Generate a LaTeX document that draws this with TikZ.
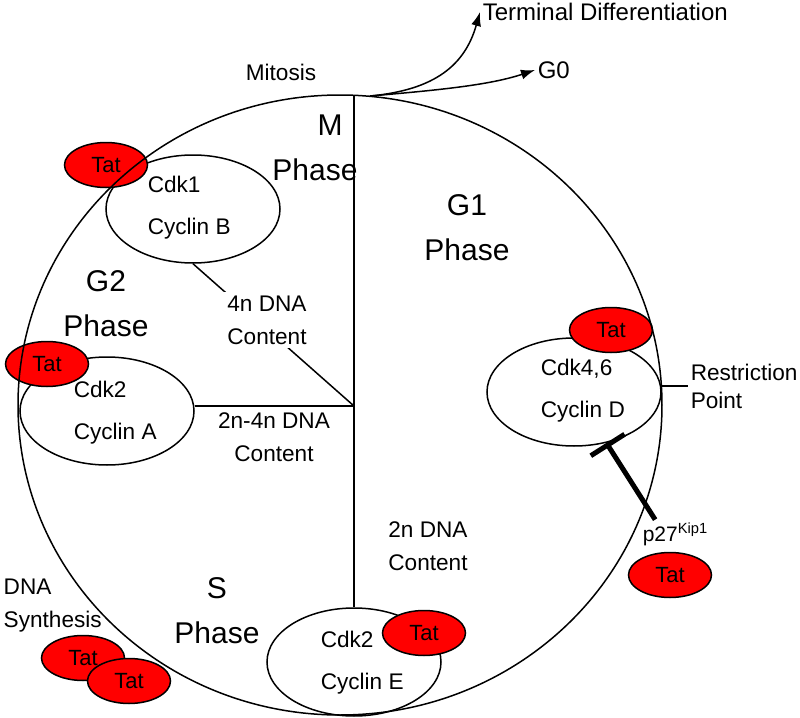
\documentclass[tikz,border=0pt]{standalone}
\usepackage{fontspec}
\setmainfont{Liberation Sans}
\usetikzlibrary{shapes.geometric,arrows.meta}

\begin{document}
\begin{tikzpicture}[x=0.5pt,y=-0.5pt,line width=0.75pt,
    cyclin/.style={draw,ellipse,minimum width=87pt,minimum height=54pt,inner sep=0pt},
    tat/.style={draw,ellipse,fill=red,minimum width=41.5pt,minimum height=22.5pt,inner sep=0pt,font=\fontsize{11}{12}\selectfont},
    lbl/.style={inner sep=1pt,align=center,font=\fontsize{11.3}{16.5}\selectfont},
    phase/.style={inner sep=1pt,align=center,font=\fontsize{15}{22.5}\selectfont},
    pair/.style={inner sep=0pt,anchor=west,align=left,font=\fontsize{11.3}{21}\selectfont}]
    \useasboundingbox (0,0) rectangle (800,718);
    % complexes
    \node[cyclin] (cycB) at (193,209) {};
    \node[cyclin] (cycA) at (107,411) {};
    \node[cyclin] (cycD) at (574,392) {};
    \node[cyclin] (cycE) at (354,662) {};
    \node[tat] (tatB) at (106,165) {Tat};
    \node[tat] (tatA) at (47,364) {Tat};
    \node[tat] (tatD) at (611,330) {Tat};
    \node[tat] (tatE) at (424,633) {Tat};
    \node[tat] (tatP) at (670,575) {Tat};
    \node[tat] (tatS1) at (83,658) {Tat};
    \node[tat] (tatS2) at (129,681) {Tat};
    % the cycle
    \draw (340,405) ellipse [x radius=322, y radius=310];
    \coordinate (top) at (354,95);
    \coordinate (hub) at (354,406);
    \coordinate (split) at (370,96);
    \draw (top) -- (cycE.north);
    \draw (hub) -- (hub -| cycA.east);
    \draw (cycB.south) -- (hub);
    % texts
    \node[lbl] (mitosis) at (281,72) {Mitosis};
    \node[lbl,anchor=west,font=\fontsize{12}{14}\selectfont] (term) at (480,12) {Terminal Differentiation};
    \node[lbl,anchor=west,font=\fontsize{12}{14}\selectfont] (g0) at (535,70) {G0};
    \node[phase] (mletter) at (330,125) {M};
    \node[phase] (mphase) at (315,170) {Phase};
    \node[phase] (g1) at (467,228) {G1\\Phase};
    \node[phase] (g2) at (106,304) {G2\\Phase};
    \node[phase] (sph) at (217,611) {S\\Phase};
    \node[pair] (cdk1) at (147,208) {Cdk1\\Cyclin B};
    \node[pair] (cdk2a) at (73,413) {Cdk2\\Cyclin A};
    \node[pair] (cdk46) at (540,391) {Cdk4,6\\Cyclin D};
    \node[pair] (cdk2e) at (320,663) {Cdk2\\Cyclin E};
    \node[lbl,fill=white,inner sep=2pt] (dna4) at (267,320) {4n DNA\\Content};
    \node[lbl] (dna24) at (274,437) {2n-4n DNA\\Content};
    \node[lbl] (dna2) at (428,546) {2n DNA\\Content};
    \node[lbl,anchor=west,align=left] (synth) at (1,606) {DNA\\Synthesis};
    \node[lbl,anchor=west,align=left,font=\fontsize{11.3}{14}\selectfont] (restr) at (688,386) {Restriction\\Point};
    \node[lbl,anchor=base west,font=\fontsize{10.5}{12}\selectfont] (p27) at (640,541) {p27\textsuperscript{Kip1}};
    % exits and control
    \draw[-{Latex[length=7pt,width=5pt]}] (split) .. controls (435,90) and (465,65) .. (term.west);
    \draw[-{Latex[length=7pt,width=5pt]}] (split) .. controls (440,90) and (490,85) .. (g0.west);
    \draw (cycD.east |- restr.west) -- (restr.west);
    \draw[line width=2.5pt,-{Bar[width=20pt]}] (p27.145) -- (cycD);
\end{tikzpicture}
\end{document}
